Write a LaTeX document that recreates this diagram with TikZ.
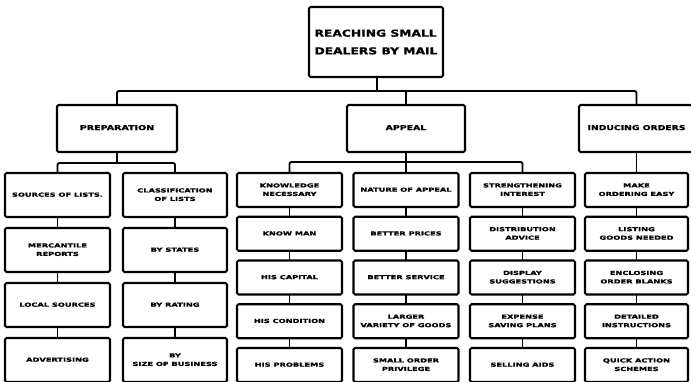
\documentclass[tikz,border=0pt]{standalone}
\usepackage{fontspec}
\setmainfont{DejaVu Sans}[BoldFont={DejaVu Sans Bold}, BoldFeatures={FakeBold=1.2}]
\usepackage{graphicx}
\usetikzlibrary{calc}
\newcommand\lbl[2][1.5]{\scalebox{#1}[1]{\begin{tabular}{@{}c@{}}#2\end{tabular}}}
\newcommand\toplbl[1]{\scalebox{1.28}[1]{\begin{tabular}{@{}l@{}}#1\end{tabular}}}
\tikzset{
  box/.style={draw, line width=2.1pt, rounded corners=1.5pt, inner sep=0pt, outer sep=0pt},
  topbox/.style={box, minimum width=134pt, minimum height=70pt, font=\fontsize{9.6}{17.7}\selectfont\bfseries},
  headbox/.style={box, minimum height=47pt, font=\fontsize{6.8}{8}\selectfont\bfseries},
  pbox/.style={box, minimum height=44pt, font=\fontsize{5.5}{8.5}\selectfont\bfseries},
  abox/.style={box, minimum height=34pt, font=\fontsize{5.5}{8.5}\selectfont\bfseries},
  conn/.style={line width=1.9pt, rounded corners=2pt}
}
\begin{document}
\begin{tikzpicture}[x=1pt,y=-1pt]
\useasboundingbox (0,0) rectangle (691,382);
\clip (0,0) rectangle (691,382);
% top
\node[topbox] (top) at (376,42) {\raisebox{2pt}{\toplbl{REACHING SMALL\\DEALERS BY MAIL}}};
% level 1
\node[headbox, minimum width=120pt] (prep) at (117,128.5) {\lbl[1.4]{PREPARATION}};
\node[headbox, minimum width=118pt] (appeal) at (406,128.5) {\lbl[1.38]{APPEAL}};
\node[headbox, minimum width=115pt] (indu) at (636.5,128.5) {\lbl[1.36]{INDUCING ORDERS}};
% preparation columns
\node[pbox, minimum width=105pt] (p1) at (57.5,195) {\lbl{SOURCES OF LISTS.}};
\node[pbox, minimum width=105pt] (p2) at (57.5,250) {\lbl{MERCANTILE\\REPORTS}};
\node[pbox, minimum width=105pt] (p3) at (57.5,305) {\lbl{LOCAL SOURCES}};
\node[pbox, minimum width=105pt] (p4) at (57.5,360) {\lbl{ADVERTISING}};
\node[pbox, minimum width=104pt] (q1) at (175,195) {\lbl{CLASSIFICATION\\OF LISTS}};
\node[pbox, minimum width=104pt] (q2) at (175,250) {\lbl{BY STATES}};
\node[pbox, minimum width=104pt] (q3) at (175,305) {\lbl{BY RATING}};
\node[pbox, minimum width=104pt] (q4) at (175,360) {\lbl{BY\\SIZE OF BUSINESS}};
% appeal columns
\node[abox, minimum width=105pt] (a1) at (289.5,190) {\lbl{KNOWLEDGE\\NECESSARY}};
\node[abox, minimum width=105pt] (a2) at (289.5,233.75) {\lbl{KNOW MAN}};
\node[abox, minimum width=105pt] (a3) at (289.5,277.5) {\lbl{HIS CAPITAL}};
\node[abox, minimum width=105pt] (a4) at (289.5,321.25) {\lbl{HIS CONDITION}};
\node[abox, minimum width=105pt] (a5) at (289.5,365) {\lbl{HIS PROBLEMS}};
\node[abox, minimum width=105pt] (b1) at (406,190) {\lbl{NATURE OF APPEAL}};
\node[abox, minimum width=105pt] (b2) at (406,233.75) {\lbl{BETTER PRICES}};
\node[abox, minimum width=105pt] (b3) at (406,277.5) {\lbl{BETTER SERVICE}};
\node[abox, minimum width=105pt] (b4) at (406,321.25) {\lbl{LARGER\\VARIETY OF GOODS}};
\node[abox, minimum width=105pt] (b5) at (406,365) {\lbl{SMALL ORDER\\PRIVILEGE}};
\node[abox, minimum width=105pt] (c1) at (522.5,190) {\lbl{STRENGTHENING\\INTEREST}};
\node[abox, minimum width=105pt] (c2) at (522.5,233.75) {\lbl{DISTRIBUTION\\ADVICE}};
\node[abox, minimum width=105pt] (c3) at (522.5,277.5) {\lbl{DISPLAY\\SUGGESTIONS}};
\node[abox, minimum width=105pt] (c4) at (522.5,321.25) {\lbl{EXPENSE\\SAVING PLANS}};
\node[abox, minimum width=105pt] (c5) at (522.5,365) {\lbl{SELLING AIDS}};
% inducing column
\node[abox, minimum width=103pt] (d1) at (636.5,190) {\lbl{MAKE\\ORDERING EASY}};
\node[abox, minimum width=103pt] (d2) at (636.5,233.75) {\lbl{LISTING\\GOODS NEEDED}};
\node[abox, minimum width=103pt] (d3) at (636.5,277.5) {\lbl{ENCLOSING\\ORDER BLANKS}};
\node[abox, minimum width=103pt] (d4) at (636.5,321.25) {\lbl{DETAILED\\INSTRUCTIONS}};
\node[abox, minimum width=103pt] (d5) at (636.5,365) {\lbl{QUICK ACTION\\SCHEMES}};
% connectors level 0 -> 1
\coordinate (tj) at (377,91);
\draw[conn] (top.south -| tj) -- (tj);
\draw[conn] (prep.north) |- (tj) -| (indu.north);
\draw[conn] (appeal.north) -- (appeal.north |- tj);
% preparation
\coordinate (pj) at (117,163);
\draw[conn] (prep.south) -- (pj);
\draw[conn] (p1.north) |- (pj) -| (q1.north);
\foreach \u/\v in {p1/p2,p2/p3,p3/p4,q1/q2,q2/q3,q3/q4} \draw[conn] (\u.south) -- (\v.north);
% appeal
\coordinate (aj) at (406,162);
\draw[conn] (appeal.south) -- (b1.north);
\draw[conn] (a1.north) |- (aj) -| (c1.north);
\foreach \u/\v in {a1/a2,a2/a3,a3/a4,a4/a5,b1/b2,b2/b3,b3/b4,b4/b5,c1/c2,c2/c3,c3/c4,c4/c5,d1/d2,d2/d3,d3/d4,d4/d5} \draw[conn] (\u.south) -- (\v.north);
% inducing
\draw[conn] (indu.south) -- (d1.north);
\end{tikzpicture}
\end{document}
